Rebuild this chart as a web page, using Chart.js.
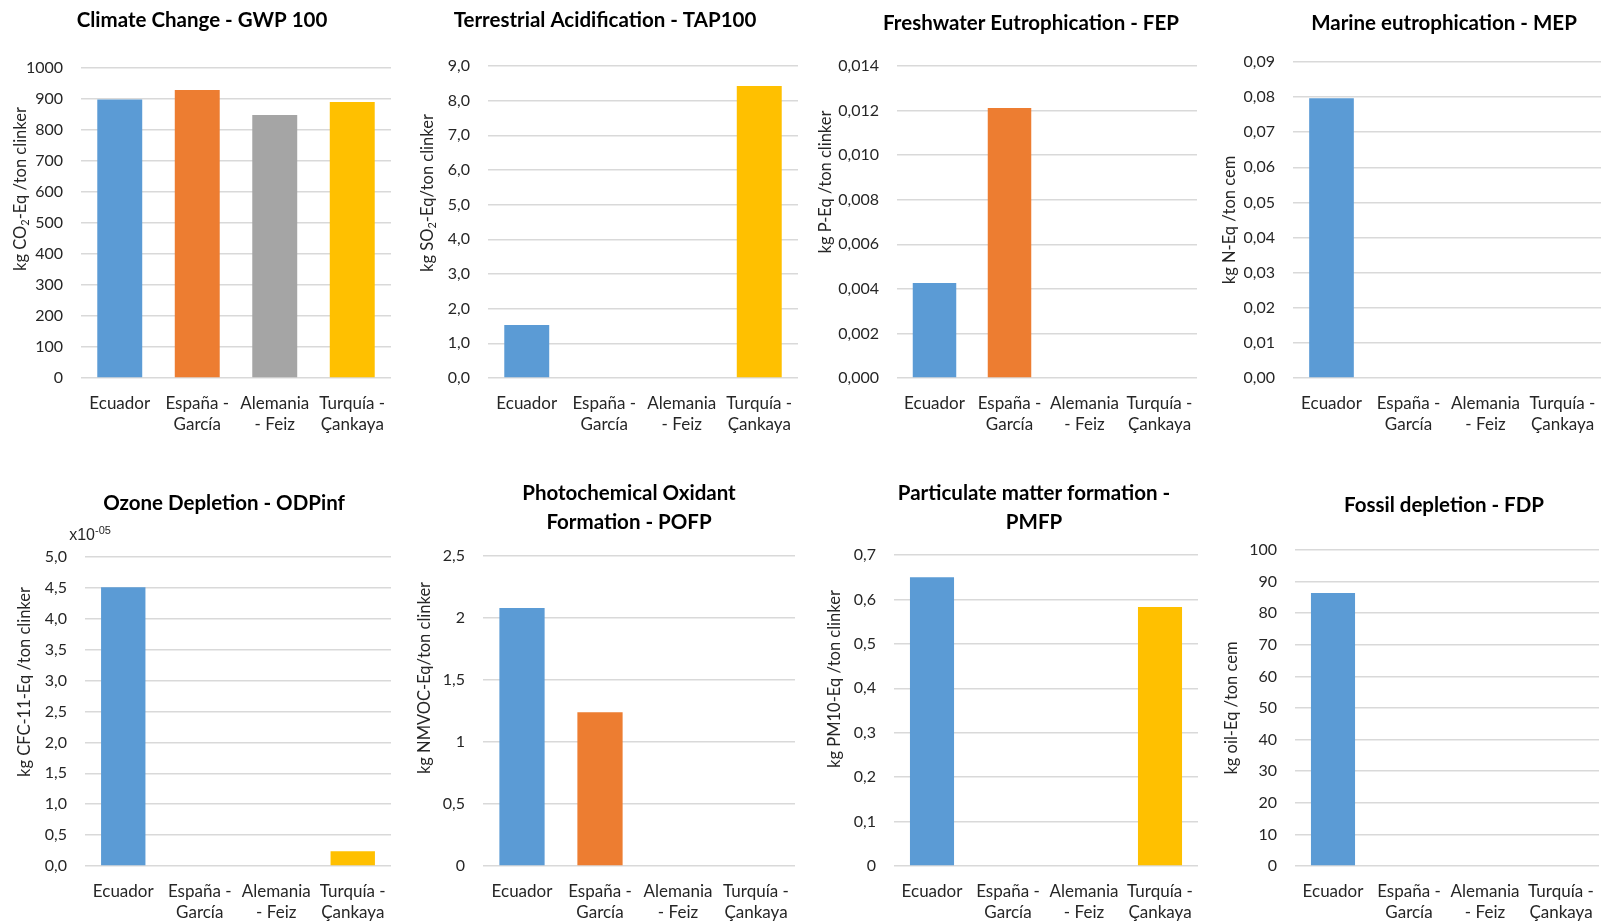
<!DOCTYPE html>
<html>
<head>
<meta charset="utf-8">
<script src="https://cdn.jsdelivr.net/npm/chart.js@4.4.1/dist/chart.umd.min.js"></script>
<style>
  html, body { margin: 0; padding: 0; background: #ffffff; }
  #wrap { position: relative; width: 1603px; height: 923px; overflow: hidden; background: #ffffff; }
  #wrap canvas { position: absolute; }
</style>
</head>
<body>
<div id="wrap"></div>
<script>
// Plants compared in every impact category (label lines as shown under the bars)
const categories = [['Ecuador'], ['España -', 'García'], ['Alemania', '- Feiz'], ['Turquía -', 'Çankaya']];
const barColors = ['#5B9BD5', '#ED7D31', '#A5A5A5', '#FFC000'];

// Impact values per plant (null = not reported)
const gwp100 = [898, 929, 848, 890];
const tap100 = [1.53, null, null, 8.42];
const fep    = [0.00426, 0.01212, null, null];
const mep    = [0.0797, null, null, null];
const odpInf = [4.51e-5, null, null, 2.4e-6];
const pofp   = [2.08, 1.24, null, null];
const pmfp   = [0.65, null, null, 0.583];
const fdp    = [86.4, null, null, null];

// Value axes: [min, max, step]
const gwpAxis  = [0, 1000, 100];
const tapAxis  = [0, 9, 1];
const fepAxis  = [0, 0.014, 0.002];
const mepAxis  = [0, 0.09, 0.01];
const odpAxis  = [0, 5e-5, 0.5e-5];
const pofpAxis = [0, 2.5, 0.5];
const pmfpAxis = [0, 0.7, 0.1];
const fdpAxis  = [0, 100, 10];

// Panel titles
const titles = [
  ['Climate Change - GWP 100'],
  ['Terrestrial Acidification - TAP100'],
  ['Freshwater Eutrophication - FEP'],
  ['Marine eutrophication - MEP'],
  ['Ozone Depletion - ODPinf'],
  ['Photochemical Oxidant', 'Formation - POFP'],
  ['Particulate matter formation -', 'PMFP'],
  ['Fossil depletion - FDP']
];

// Unit captions: [text, 'sub'|''] pieces
const units = [
  [['kg CO', ''], ['2', 'sub'], ['-Eq /ton clinker', '']],
  [['kg SO', ''], ['2', 'sub'], ['-Eq/ton clinker', '']],
  [['kg P-Eq /ton clinker', '']],
  [['kg N-Eq /ton cem', '']],
  [['kg CFC-11-Eq /ton clinker', '']],
  [['kg NMVOC-Eq/ton clinker', '']],
  [['kg PM10-Eq /ton clinker', '']],
  [['kg oil-Eq /ton cem', '']]
];

// Tick label formatters (decimal comma)
const fixed = d => v => v.toFixed(d).replace('.', ',');
const general = v => String(parseFloat(v.toFixed(6))).replace('.', ',');
const scaled = (f, d) => v => (v / f).toFixed(d).replace('.', ',');

const FONT = 'Lato, "Open Sans", sans-serif';
const TEXT = '#262626';

// Layout of each panel on the page
const panels = [
  { values: gwp100, axis: gwpAxis,  fmt: fixed(0),  box: [0, 0, 400, 440],    plot: [81, 68, 391, 378],   titleAt: [202, 20],  unitAt: [21, 189] },
  { values: tap100, axis: tapAxis,  fmt: fixed(1),  box: [400, 0, 400, 440],  plot: [488, 66, 798, 378],  titleAt: [605, 20],  unitAt: [428, 193] },
  { values: fep,    axis: fepAxis,  fmt: fixed(3),  box: [800, 0, 400, 440],  plot: [897, 66, 1197, 378], titleAt: [1031, 23], unitAt: [826, 182] },
  { values: mep,    axis: mepAxis,  fmt: fixed(2),  box: [1200, 0, 403, 440], plot: [1293, 62, 1601, 378],titleAt: [1444, 23], unitAt: [1230, 220] },
  { values: odpInf, axis: odpAxis,  fmt: scaled(1e-5, 1), box: [0, 450, 400, 473],    plot: [85, 557, 391, 866],   titleAt: [224, 503], unitAt: [25, 682], exponent: true },
  { values: pofp,   axis: pofpAxis, fmt: general,   box: [400, 450, 400, 473],  plot: [483, 556, 795, 866],  titleAt: [629, 493], unitAt: [425, 678] },
  { values: pmfp,   axis: pmfpAxis, fmt: general,   box: [800, 450, 400, 473],  plot: [894, 555, 1198, 866], titleAt: [1034, 493], unitAt: [835, 679] },
  { values: fdp,    axis: fdpAxis,  fmt: fixed(0),  box: [1200, 450, 403, 473], plot: [1295, 550, 1599, 866], titleAt: [1444, 505], unitAt: [1232, 708] }
];

// Draws the panel title, the rotated unit caption and the axis multiplier
const panelText = {
  id: 'panelText',
  afterDraw(chart, args, o) {
    const ctx = chart.ctx;
    ctx.save();
    ctx.fillStyle = '#000000';
    ctx.font = 'bold 20.5px ' + FONT;
    ctx.textAlign = 'center';
    ctx.textBaseline = 'middle';
    o.title.forEach((line, i) => ctx.fillText(line, o.titleX, o.titleY + i * 29));

    if (o.exponent) {
      ctx.fillStyle = TEXT;
      ctx.textAlign = 'right';
      ctx.font = '16px "Liberation Sans", Arial, sans-serif';
      ctx.fillText('x10', o.exponent[0], o.exponent[1]);
      ctx.textAlign = 'left';
      ctx.font = '11px "Liberation Sans", Arial, sans-serif';
      ctx.fillText('-05', o.exponent[0], o.exponent[1] - 5);
    }

    ctx.fillStyle = TEXT;
    ctx.translate(o.unitX, o.unitY);
    ctx.rotate(-Math.PI / 2);
    ctx.textAlign = 'left';
    const mainFont = '16.5px ' + FONT, subFont = '11px ' + FONT;
    let total = 0;
    o.unit.forEach(([t, k]) => { ctx.font = k ? subFont : mainFont; total += ctx.measureText(t).width; });
    let x = -total / 2;
    o.unit.forEach(([t, k]) => {
      ctx.font = k ? subFont : mainFont;
      ctx.fillText(t, x, k === 'sub' ? 4 : 0);
      x += ctx.measureText(t).width;
    });
    ctx.restore();
  }
};

const wrap = document.getElementById('wrap');
panels.forEach((p, i) => {
  const [L, T, W, H] = p.box;
  const [pl, pt, pr, pb] = p.plot;
  const cv = document.createElement('canvas');
  cv.width = W; cv.height = H;
  cv.style.left = L + 'px'; cv.style.top = T + 'px';
  cv.style.width = W + 'px'; cv.style.height = H + 'px';
  wrap.appendChild(cv);

  new Chart(cv, {
    type: 'bar',
    data: {
      labels: categories,
      datasets: [{ data: p.values, backgroundColor: barColors, borderWidth: 0, categoryPercentage: 1, barPercentage: 0.58 }]
    },
    options: {
      responsive: false,
      animation: false,
      devicePixelRatio: 1,
      layout: { padding: { top: pt - T, right: L + W - pr, left: 0, bottom: 0 } },
      plugins: {
        legend: { display: false },
        tooltip: { enabled: false },
        title: { display: false },
        panelText: {
          title: titles[i],
          titleX: p.titleAt[0] - L, titleY: p.titleAt[1] - T,
          unit: units[i],
          unitX: p.unitAt[0] - L, unitY: p.unitAt[1] - T,
          exponent: p.exponent ? [95 - L, 536 - T] : null
        }
      },
      scales: {
        x: {
          grid: { display: false },
          border: { display: false },
          ticks: { color: TEXT, font: { family: FONT, size: 17, lineHeight: '21.5px' }, padding: 6.5, maxRotation: 0, autoSkip: false },
          afterFit: s => { s.height = T + H - pb; s.paddingLeft = 0; s.paddingRight = 0; }
        },
        y: {
          min: p.axis[0], max: p.axis[1],
          grid: { color: '#D9D9D9', lineWidth: 1.5, drawTicks: false },
          border: { display: false },
          ticks: { stepSize: p.axis[2], color: TEXT, font: { family: FONT, size: 16 }, padding: 18, callback: p.fmt },
          afterFit: s => { s.width = pl - L; }
        }
      }
    },
    plugins: [panelText]
  });
});
</script>
</body>
</html>
